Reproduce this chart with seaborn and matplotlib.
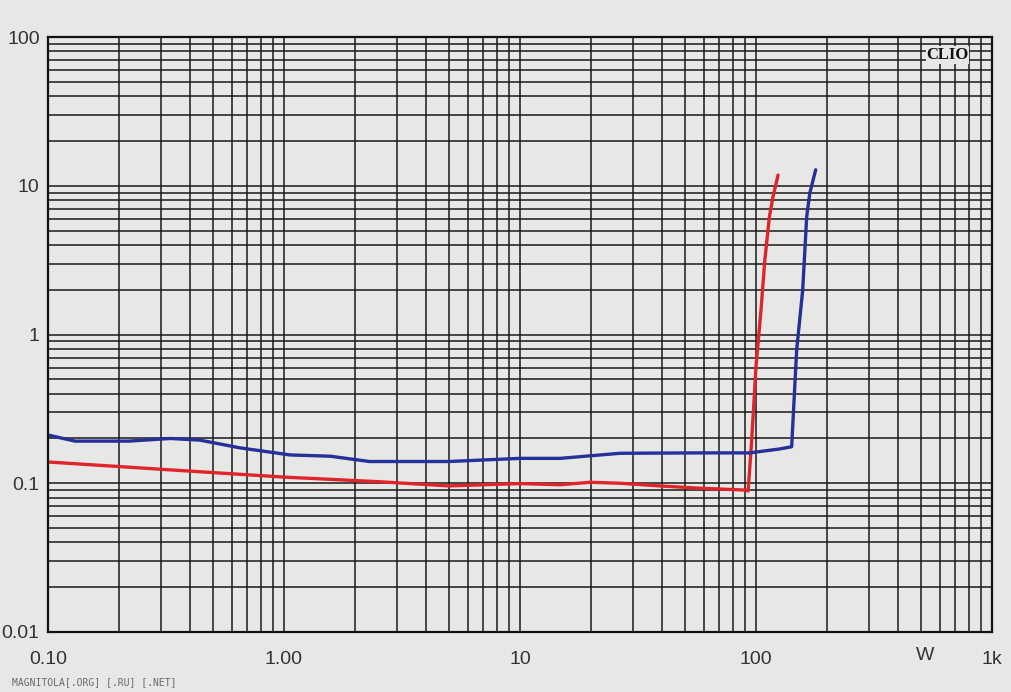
import matplotlib
matplotlib.use("Agg")
import matplotlib.pyplot as plt
import matplotlib.ticker as mticker
import numpy as np
import pandas as pd
import seaborn as sns

# Data (x: power in W, y: THD in %)
red_x = [0.10, 0.33, 1.0, 2.5, 5.0, 10.0, 14.8, 19.8, 26.5, 39.0, 57.0, 90.0, 92.6,
         95.9, 100.0, 105.0, 109.0, 114.0, 118.0, 124.0]
red_y = [0.139, 0.123, 0.110, 0.1025, 0.096, 0.0995, 0.0977, 0.1015, 0.100, 0.096, 0.0927, 0.090, 0.0887,
         0.195, 0.608, 1.46, 3.17, 6.2, 8.4, 11.8]
blue_x = [0.10, 0.13, 0.22, 0.33, 0.44, 0.65, 1.06, 1.57, 2.3, 5.0, 10.0, 14.8, 26.5, 57.0, 94.0,
          126.0, 141.6, 148.7, 157.7, 164.0, 169.0, 179.0]
blue_y = [0.211, 0.192, 0.192, 0.200, 0.195, 0.173, 0.155, 0.152, 0.140, 0.140, 0.147, 0.147, 0.159,
          0.160, 0.160, 0.170, 0.176, 0.787, 1.99, 6.2, 8.9, 12.8]

x_ticks = [0.1, 1, 10, 100, 1000]
x_tick_labels = ["0.10", "1.00", "10", "100", "1k"]
y_ticks = [0.01, 0.1, 1, 10, 100]
y_tick_labels = ["0.01", "0.1", "1", "10", "100"]

df = pd.concat([
    pd.DataFrame({"W": red_x, "THD": red_y, "ch": "red"}),
    pd.DataFrame({"W": blue_x, "THD": blue_y, "ch": "blue"}),
], ignore_index=True)

sns.set_style("white")
plt.rcParams["font.family"] = ["Liberation Sans", "DejaVu Sans"]

bg = "#e7e7e5"
fig = plt.figure(figsize=(10.12, 6.92), dpi=100, facecolor=bg)
ax = fig.add_axes([48/1012, 1-632/692, 944/1012, 595/692])
ax.set_facecolor(bg)

sns.lineplot(data=df, x="W", y="THD", hue="ch", palette={"red": "#e0242a", "blue": "#25309a"},
             sort=False, estimator=None, linewidth=2.4, legend=False, ax=ax)

ax.set_xscale("log")
ax.set_yscale("log")
ax.set_xlim(0.1, 1000)
ax.set_ylim(0.01, 100)

ax.xaxis.set_major_locator(mticker.FixedLocator(x_ticks))
ax.xaxis.set_major_formatter(mticker.FixedFormatter(x_tick_labels))
ax.yaxis.set_major_locator(mticker.FixedLocator(y_ticks))
ax.yaxis.set_major_formatter(mticker.FixedFormatter(y_tick_labels))
ax.xaxis.set_minor_locator(mticker.LogLocator(base=10, subs=np.arange(2, 10)))
ax.yaxis.set_minor_locator(mticker.LogLocator(base=10, subs=np.arange(2, 10)))
ax.xaxis.set_minor_formatter(mticker.NullFormatter())
ax.yaxis.set_minor_formatter(mticker.NullFormatter())

ax.grid(True, which="both", color="#1a1a1a", linewidth=1.1)
ax.set_axisbelow(True)
for s in ax.spines.values():
    s.set_color("#111111")
    s.set_linewidth(1.6)

ax.tick_params(axis="both", which="both", length=0)
ax.tick_params(axis="x", pad=14, labelsize=14, labelcolor="#333333")
ax.tick_params(axis="y", pad=6, labelsize=14, labelcolor="#333333")
ax.set_xlabel("")
ax.set_ylabel("")

# unit label "W" on x axis
ax.text(520, -(655 - 632) / 595, "W", transform=ax.get_xaxis_transform(), ha="center", va="center",
        fontsize=14, color="#333333")

# CLIO logo text
ax.text(647, 1 - 10 / 595, "CLIO", transform=ax.get_xaxis_transform(), ha="center", va="top",
        fontsize=12, fontweight="bold", family="Liberation Serif", color="#111111",
        bbox=dict(facecolor=bg, edgecolor="none", pad=0.5))

fig.text(12/1012, 1-682/692, "MAGNITOLA[.ORG] [.RU] [.NET]", fontsize=7.0,
         family="DejaVu Sans Mono", color="#6a6a6a", va="center", ha="left")

fig.savefig("out.png", dpi=100, facecolor=bg)
